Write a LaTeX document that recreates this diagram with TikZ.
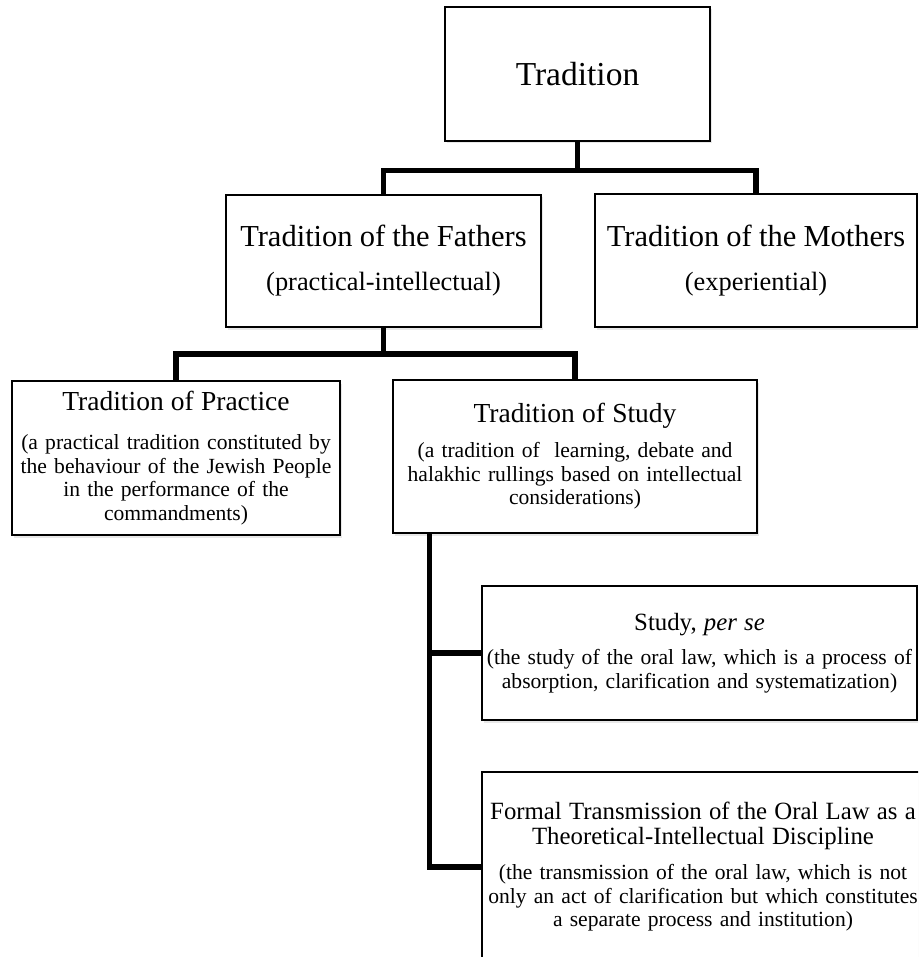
\documentclass[tikz,border=0pt]{standalone}
\usepackage{fontspec}
\setmainfont{Liberation Serif}
\usepackage{tikz}
\usetikzlibrary{positioning,shadows}

\newcommand{\fsTop}{\fontsize{33.5}{36}\selectfont}
\newcommand{\fsBig}{\fontsize{30.5}{33}\selectfont}
\newcommand{\fsSub}{\fontsize{26.4}{30}\selectfont}
\newcommand{\fsMid}{\fontsize{27.5}{30}\selectfont}
\newcommand{\fsSmall}{\fontsize{24.8}{25}\selectfont}
\newcommand{\fsBody}{\fontsize{21.6}{23.5}\selectfont}

\begin{document}
\begin{tikzpicture}[x=1pt,y=-1pt]
        \tikzstyle{box}=[draw,line width=1.5pt,fill=white,inner xsep=3pt,inner ysep=0pt,align=center,font=\fsBody,drop shadow={opacity=0.18,shadow xshift=1.5pt,shadow yshift=-2.5pt}]
        \tikzstyle{link}=[line width=5.5pt]

        \useasboundingbox (0,0) rectangle (918,957);
        \clip (0,0) rectangle (918,957);

        \draw (577.5,74) node[box,text width=259pt,minimum height=134pt] (tr) {\fsTop Tradition};
        \draw (383.5,261) node[box,text width=309pt,minimum height=132pt] (fa) {{\fsBig Tradition of the Fathers\par}\vspace{14pt}{\fsSub (practical-intellectual)\par}};
        \draw (756,260.5) node[box,text width=316pt,minimum height=133pt] (mo) {{\fsBig Tradition of the Mothers\par}\vspace{14pt}{\fsSub (experiential)\par}};
        \draw (176,458) node[box,text width=322pt,minimum height=154pt] (pr) {{\fsMid Tradition of Practice\par}\vspace{15.5pt}(a practical tradition constituted by\\ the behaviour of the Jewish People\\ in the performance of the\\ commandments)};
        \draw (575,456.5) node[box,text width=358pt,minimum height=153pt] (st) {{\fsMid Tradition of Study\par}\vspace{11.5pt}(a tradition of\ \ learning, debate and\\ halakhic rullings based on intellectual\\ considerations)};
        \draw (699.5,653) node[box,text width=429pt,minimum height=134pt] (ps) {{\fsSmall Study, \textit{per se}\par}\vspace{11pt}(the study of the oral law, which is a process of\\ absorption, clarification and systematization)};
        \draw (703,867) node[box,text width=436pt,minimum height=190pt] (ft) {{\fsSmall Formal Transmission of the Oral Law as a\\ Theoretical-Intellectual Discipline\par}\vspace{11.5pt}(the transmission of the oral law, which is not\\ only an act of clarification but which constitutes\\ a separate process and institution)};

        \draw[link] (tr.south) -- ++(0,29) -| (fa.north);
        \draw[link] (tr.south) -- ++(0,29) -| (mo.north);
        \draw[link] (fa.south) -- ++(0,26) -| (pr.north);
        \draw[link] (fa.south) -- ++(0,26) -| (st.north);
        \draw[link] ([xshift=37pt]st.south west) |- (ps.west);
        \draw[link] ([xshift=37pt]st.south west) |- (ft.west);
    \end{tikzpicture}
\end{document}
